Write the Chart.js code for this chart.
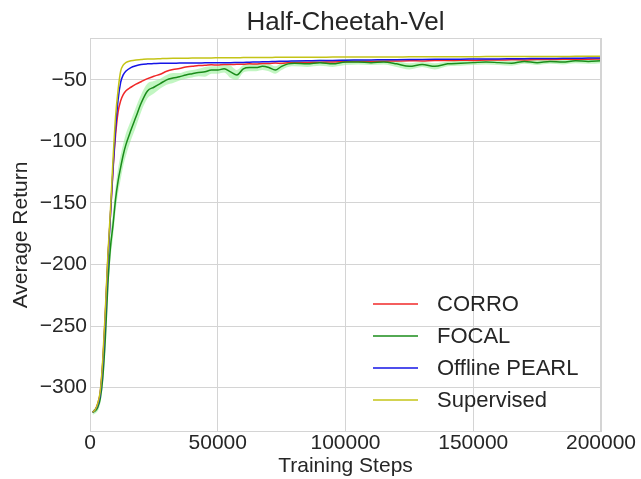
<!DOCTYPE html>
<html>
<head>
<meta charset="utf-8">
<script src="https://cdn.jsdelivr.net/npm/chart.js@4/dist/chart.umd.min.js"></script>
<style>
  html, body { margin: 0; padding: 0; background: #fff; }
  #wrap { width: 641px; height: 479px; }
</style>
</head>
<body>
<div id="wrap"><canvas id="chart" width="641" height="479"></canvas></div>
<script>
const steps = [1000, 2000, 3000, 4000, 5000, 6000, 7000, 8000, 9000, 10000, 11000, 12000, 13000, 14000, 16000, 18000, 20000,
  22500, 25000, 27500, 30000, 32500, 35000, 37500, 40000, 42500, 45000, 47500, 50000, 52500, 55000, 57500, 60000,
  62500, 65000, 67500, 70000, 72500, 75000, 77500, 80000,
  85000, 90000, 95000, 100000, 105000, 110000, 115000, 120000, 125000, 130000, 135000, 140000,
  145000, 150000, 155000, 160000, 165000, 170000, 175000, 180000, 185000, 190000, 195000, 200000];

const corro = [-320, -318, -313, -304, -279, -240, -195, -160, -124, -95, -76, -67, -62, -59, -56, -53.5, -51.5,
  -49, -47, -45.5, -43, -41.5, -40.8, -39.5, -39, -38.3, -38.2, -37.8, -37.9, -37.5, -37.6, -37.3, -37.4,
  -37, -37.1, -36.7, -36.8, -36.4, -36.5, -36.1, -36,
  -35.8, -35.7, -35.4, -35.3, -35, -35.1, -34.8, -34.7, -34.5, -34.6, -34.3, -34.3,
  -34.1, -34.2, -33.9, -33.9, -33.7, -33.8, -33.5, -33.5, -33.3, -33.4, -33.2, -33.1];

const focal = [-320, -319, -316, -309, -292, -260, -216, -186, -168, -147, -132, -121, -111, -103, -91, -80, -69,
  -59, -56, -53, -50, -48.5, -47.5, -46, -45, -44, -43.5, -42, -42, -41, -43.5, -46, -41,
  -40, -40, -39, -40, -42, -39, -37, -36.5,
  -37, -36, -37, -35.5, -35.5, -36, -35.5, -37, -39, -37.5, -39, -37,
  -36.5, -36, -35.5, -36, -36.5, -35, -36, -35, -35.5, -34.5, -35, -34.5];

const focalStd = [2, 2, 3, 4, 6, 8, 9, 10, 10, 10, 10, 10, 9, 9, 8, 8, 7,
  6, 5, 4, 4, 4, 3, 3, 3, 3, 4, 3, 3, 3, 5, 4, 3,
  3, 3, 3, 3, 3, 3, 2.5, 2.5,
  2.5, 2.5, 2.5, 2.5, 2, 2, 2, 2.5, 2.5, 2, 2.5, 2,
  2, 2, 2, 2, 2, 2, 2, 2, 2, 2, 2, 2];

const pearl = [-320, -318, -314, -305, -281, -242, -197, -160, -122, -90, -66, -52, -46, -43, -40, -38.5, -37.5,
  -37, -36.8, -36.6, -36.5, -36.5, -36.4, -36.4, -36.3, -36.3, -36.2, -36.2, -36.1, -36, -36, -35.9, -35.8,
  -35.6, -35.5, -35.3, -35.2, -35, -34.9, -34.8, -34.7,
  -34.5, -34.3, -34.2, -34, -33.9, -33.8, -33.7, -33.6, -33.5, -33.4, -33.3, -33.2,
  -33.2, -33.1, -33, -33, -32.9, -32.8, -32.7, -32.6, -32.5, -32.4, -32.3, -32.2];

const supervised = [-320, -318, -313, -303, -277, -237, -192, -156, -115, -80, -58, -43, -38, -36, -34.5, -33.8, -33.5,
  -33, -33, -32.8, -32.6, -32.5, -32.5, -32.4, -32.3, -32.3, -32.2, -32.2, -32.1, -32, -32, -32, -31.9,
  -31.9, -31.8, -31.8, -31.8, -31.7, -31.7, -31.7, -31.6,
  -31.6, -31.6, -31.5, -31.5, -31.5, -31.4, -31.4, -31.4, -31.3, -31.3, -31.3, -31.2,
  -31.2, -31.2, -31.1, -31.1, -31.1, -31, -31, -31, -31, -30.9, -30.9, -30.9];

const xTicks = [0, 50000, 100000, 150000, 200000];
const yTicks = [-300, -250, -200, -150, -100, -50];

const seriesNames = ['CORRO', 'FOCAL', 'Offline PEARL', 'Supervised'];
const seriesColors = ['#f02828', '#1a8c1a', '#1515e6', '#c4c417'];

const textColor = '#262626';
const gridColor = '#d4d4d4';
const fontFamily = '"Liberation Sans", Arial, sans-serif';

const pts = vals => vals.map((v, i) => ({ x: steps[i], y: v }));

function lineSet(i, vals, order) {
  return {
    label: seriesNames[i],
    data: pts(vals),
    borderColor: seriesColors[i],
    borderWidth: 1.5,
    pointRadius: 0,
    cubicInterpolationMode: 'monotone',
    fill: false,
    order
  };
}

const focalLow = focal.map((v, i) => v - focalStd[i]);
const focalHigh = focal.map((v, i) => v + focalStd[i]);

// frame around the plot area, like the matplotlib axes box
const frame = {
  id: 'frame',
  afterDatasetsDraw(chart) {
    const { ctx, chartArea: a } = chart;
    ctx.save();
    ctx.strokeStyle = gridColor;
    ctx.lineWidth = 1;
    ctx.strokeRect(a.left + 0.5, a.top + 0.5, a.right - a.left - 1, a.bottom - a.top - 1);
    ctx.restore();
  }
};

// legend inside the axes, lower right, no box
const insideLegend = {
  id: 'insideLegend',
  afterDraw(chart) {
    const { ctx } = chart;
    ctx.save();
    ctx.font = '22px ' + fontFamily;
    ctx.textBaseline = 'middle';
    seriesNames.forEach((name, i) => {
      const y = 304 + i * 32;
      ctx.strokeStyle = seriesColors[i];
      ctx.lineWidth = 1.5;
      ctx.beginPath();
      ctx.moveTo(373, y);
      ctx.lineTo(418, y);
      ctx.stroke();
      ctx.fillStyle = textColor;
      ctx.fillText(name, 437, y + 1);
    });
    ctx.restore();
  }
};

new Chart(document.getElementById('chart').getContext('2d'), {
  type: 'line',
  data: {
    datasets: [
      lineSet(0, corro, 4),
      lineSet(1, focal, 3),
      lineSet(2, pearl, 2),
      lineSet(3, supervised, 1),
      {
        label: 'focal-low',
        data: pts(focalLow),
        borderWidth: 0,
        pointRadius: 0,
        cubicInterpolationMode: 'monotone',
        fill: false,
        order: 6
      },
      {
        label: 'focal-high',
        data: pts(focalHigh),
        borderWidth: 0,
        pointRadius: 0,
        cubicInterpolationMode: 'monotone',
        backgroundColor: 'rgba(144, 238, 144, 0.55)',
        fill: 4,
        order: 5
      }
    ]
  },
  options: {
    responsive: false,
    animation: false,
    layout: { padding: { left: 0, right: 40, top: 0, bottom: 0 } },
    plugins: {
      legend: { display: false },
      tooltip: { enabled: false },
      title: {
        display: true,
        fullSize: false,
        text: 'Half-Cheetah-Vel',
        color: textColor,
        font: { family: fontFamily, size: 26, weight: 'normal', lineHeight: 1 },
        padding: { top: 10, bottom: 2 }
      }
    },
    scales: {
      x: {
        type: 'linear',
        min: 0,
        max: 200000,
        afterBuildTicks: s => { s.ticks = xTicks.map(v => ({ value: v })); },
        afterFit: s => { s.height = 47; },
        grid: { color: gridColor, drawTicks: false },
        border: { display: false },
        ticks: {
          color: textColor,
          padding: 1,
          maxRotation: 0,
          font: { family: fontFamily, size: 21, lineHeight: 1 },
          callback: v => String(v)
        },
        title: {
          display: true,
          text: 'Training Steps',
          color: textColor,
          font: { family: fontFamily, size: 21 },
          padding: { top: 0, bottom: 0 }
        }
      },
      y: {
        min: -336,
        max: -16,
        afterBuildTicks: s => { s.ticks = yTicks.map(v => ({ value: v })); },
        afterFit: s => { s.width = 90; },
        grid: { color: gridColor, drawTicks: false },
        border: { display: false },
        ticks: {
          color: textColor,
          padding: 3,
          font: { family: fontFamily, size: 21 },
          callback: v => String(v).replace('-', '\u2212')
        },
        title: {
          display: true,
          text: 'Average Return',
          color: textColor,
          font: { family: fontFamily, size: 21 },
          padding: { top: 9, bottom: 0 }
        }
      }
    }
  },
  plugins: [frame, insideLegend]
});
</script>
</body>
</html>
